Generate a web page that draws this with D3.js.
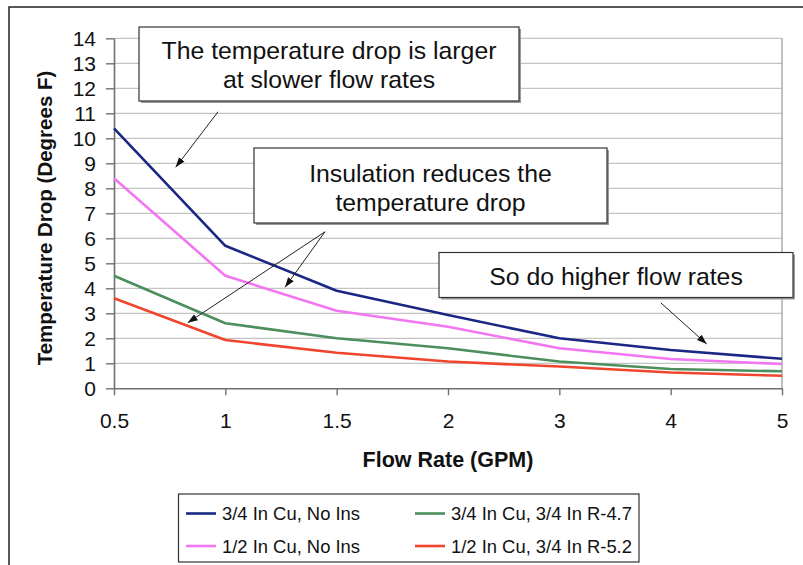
<!DOCTYPE html>
<html><head><meta charset="utf-8">
<script src="https://cdn.jsdelivr.net/npm/d3@7/dist/d3.min.js"></script>
<style>
html,body{margin:0;padding:0;background:#fff;}
svg{display:block;font-family:"Liberation Sans",Arial,sans-serif;}
</style></head>
<body>
<svg id="chart" width="803" height="565"></svg>
<script>
// ---- data ----
const flowRates = ["0.5","1","1.5","2","3","4","5"];
const yTicks = [0,1,2,3,4,5,6,7,8,9,10,11,12,13,14];
const seriesNames = ["3/4 In Cu, No Ins","1/2 In Cu, No Ins","3/4 In Cu, 3/4 In R-4.7","1/2 In Cu, 3/4 In R-5.2"];
const cu34NoIns   = [10.4, 5.7, 3.9, 2.93, 2.0, 1.53, 1.18];
const cu12NoIns   = [8.4, 4.5, 3.1, 2.46, 1.6, 1.17, 0.97];
const cu34R47     = [4.5, 2.6, 2.0, 1.6, 1.07, 0.77, 0.68];
const cu12R52     = [3.6, 1.93, 1.42, 1.07, 0.87, 0.63, 0.5];
const seriesColors = ["#1a2784","#f276f2","#4c8f5c","#f0452c"];
const annotationTexts = [
  ["The temperature drop is larger","at slower flow rates"],
  ["Insulation reduces the","temperature drop"],
  ["So do higher flow rates"]
];
// arrow endpoints in (category index, value) space
const arrows = [
  {from:[0.934,11.06], to:[0.554,8.84]},
  {from:[1.895,6.26],  to:[1.536,4.04]},
  {from:[1.895,6.26],  to:[0.662,2.62]},
  {from:[4.911,3.42],  to:[5.324,1.77]}
];

const series = [cu34NoIns, cu12NoIns, cu34R47, cu12R52].map((v,i)=>({name:seriesNames[i], color:seriesColors[i], values:v}));

// ---- layout ----
const L = 114, R = 782, T = 38.3, B = 388.3;
const svg = d3.select("#chart");

// outer frame
svg.append("rect").attr("x",9).attr("y",7).attr("width",900).attr("height",700)
  .attr("fill","#fff").attr("stroke","#222").attr("stroke-width",1.5);

const x = d3.scalePoint().domain(flowRates).range([L,R]).padding(0);
const xi = d3.scaleLinear().domain([0,flowRates.length-1]).range([L,R]);
const y = d3.scaleLinear().domain([0,14]).range([B,T]);

// gridlines
svg.append("g").selectAll("line").data(yTicks.filter(d=>d>0)).join("line")
  .attr("x1",L).attr("x2",R).attr("y1",d=>y(d)).attr("y2",d=>y(d))
  .attr("stroke","#c4c4c4").attr("stroke-width",1.3);
// right plot border
svg.append("line").attr("x1",R).attr("x2",R).attr("y1",y(14)).attr("y2",B)
  .attr("stroke","#a0a0a0").attr("stroke-width",1.3);

// axes
const yAxis = svg.append("g").attr("transform",`translate(${L},0)`)
  .call(d3.axisLeft(y).tickValues(yTicks).tickSize(8).tickPadding(10).tickSizeOuter(0));
const xAxis = svg.append("g").attr("transform",`translate(0,${B})`)
  .call(d3.axisBottom(x).tickSize(7).tickPadding(18).tickSizeOuter(0));
[yAxis,xAxis].forEach(g=>{
  g.select(".domain").attr("stroke","#707070").attr("stroke-width",1.6);
  g.selectAll(".tick line").attr("stroke","#707070").attr("stroke-width",1.4);
  g.selectAll(".tick text").attr("fill","#111").style("font-size","21px")
   .style("font-family","'Liberation Sans',Arial,sans-serif");
});
yAxis.selectAll(".tick text").attr("dy","0.36em");

// axis titles
svg.append("text").attr("x",448).attr("y",467).attr("text-anchor","middle")
  .style("font-size","21.5px").style("font-weight","bold").attr("fill","#111").text("Flow Rate (GPM)");
svg.append("text").attr("transform","translate(52,218) rotate(-90)").attr("text-anchor","middle")
  .style("font-size","20.5px").style("font-weight","bold").attr("fill","#111").text("Temperature Drop (Degrees F)");

// lines
const line = d3.line().x((d,i)=>x(flowRates[i])).y(d=>y(d));
svg.append("g").selectAll("path").data(series).join("path")
  .attr("d",d=>line(d.values)).attr("fill","none")
  .attr("stroke",d=>d.color).attr("stroke-width",2.6).attr("stroke-linejoin","round");

// annotation boxes
const boxes = [
  {x:139, y:27, w:380, h:74, base:58.5, lh:29},
  {x:254, y:148, w:353, h:75, base:181.5, lh:29},
  {x:439, y:252.5, w:354, h:45, base:285, lh:29}
];
boxes.forEach((b,i)=>{
  svg.append("rect").attr("x",b.x+2).attr("y",b.y+2).attr("width",b.w).attr("height",b.h).attr("fill","#9a9a9a");
  svg.append("rect").attr("x",b.x).attr("y",b.y).attr("width",b.w).attr("height",b.h)
    .attr("fill","#fff").attr("stroke","#333").attr("stroke-width",1.2);
  annotationTexts[i].forEach((t,j)=>{
    svg.append("text").attr("x",b.x+b.w/2).attr("y",b.base+j*b.lh).attr("text-anchor","middle")
      .style("font-size","24.8px").attr("fill","#111").text(t);
  });
});

// arrows
const defs = svg.append("defs");
defs.append("marker").attr("id","ah").attr("viewBox","0 0 10 10").attr("refX",10).attr("refY",5)
  .attr("markerWidth",10).attr("markerHeight",10).attr("markerUnits","userSpaceOnUse").attr("orient","auto")
  .append("path").attr("d","M0,1.5 L10,5 L0,8.5 Z").attr("fill","#111");
svg.append("g").selectAll("line").data(arrows).join("line")
  .attr("x1",d=>xi(d.from[0])).attr("y1",d=>y(d.from[1]))
  .attr("x2",d=>xi(d.to[0])).attr("y2",d=>y(d.to[1]))
  .attr("stroke","#222").attr("stroke-width",1).attr("marker-end","url(#ah)");

// legend
const lg = svg.append("g");
lg.append("rect").attr("x",178.5).attr("y",494).attr("width",460.5).attr("height",68)
  .attr("fill","#fff").attr("stroke","#333").attr("stroke-width",1.2);
const legendPos = [[186,513.5],[186,546],[415,513.5],[415,546]];
series.forEach((s,i)=>{
  const [lx,ly] = legendPos[i];
  lg.append("line").attr("x1",lx).attr("x2",lx+30).attr("y1",ly).attr("y2",ly)
    .attr("stroke",s.color).attr("stroke-width",2.6);
  lg.append("text").attr("x",lx+36).attr("y",ly+6.8).style("font-size","18.4px").attr("fill","#111").text(s.name);
});
</script>
</body></html>
